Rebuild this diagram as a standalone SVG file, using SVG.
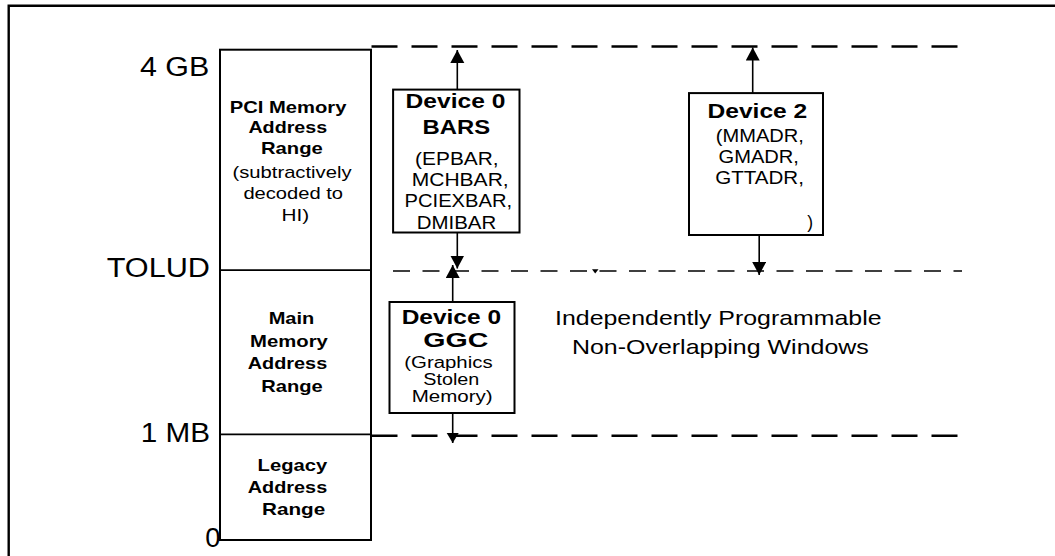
<svg xmlns="http://www.w3.org/2000/svg" width="1055" height="556" viewBox="0 0 1055 556">
<style>
  text { font-family: "Liberation Sans", Arial, sans-serif; fill: #000; }
  .lbl { font-size: 27px; }
  .colb { font-size: 17px; font-weight: bold; }
  .colr { font-size: 17px; }
  .title { font-size: 20px; font-weight: bold; }
  .reg { font-size: 17.5px; }
  .tight { font-size: 16px; }
  .note { font-size: 21px; }
  .box { fill: #fff; stroke: #000; stroke-width: 2; }
  .div { stroke: #000; stroke-width: 1.8; fill: none; }
  .dash-major { stroke: #000; stroke-width: 2.4; stroke-dasharray: 26 14; fill: none; }
  .dash-minor { stroke: #000; stroke-width: 1.6; stroke-dasharray: 17 12.5; fill: none; }
  .arrow { stroke: #000; stroke-width: 1.6; fill: none; marker-end: url(#ah); }
  .arrow-s { stroke: #000; stroke-width: 1.6; fill: none; marker-end: url(#ahs); }
</style>
<defs>
  <marker id="ah" markerUnits="userSpaceOnUse" markerWidth="14" markerHeight="15" refX="13" refY="7" orient="auto">
    <path d="M0,0 L13,7 L0,14 Z" fill="#000"/>
  </marker>
  <marker id="ahs" markerUnits="userSpaceOnUse" markerWidth="11" markerHeight="13" refX="10" refY="6" orient="auto">
    <path d="M0,0 L10,6 L0,12 Z" fill="#000"/>
  </marker>
</defs>
<rect x="0" y="0" width="1055" height="556" fill="#fff"/>
<path d="M8.7,556 V5.8 H1055" fill="none" stroke="#000" stroke-width="2.4"/>

<g id="scale-labels">
  <text class="lbl" x="140" y="75.7" textLength="69.3" lengthAdjust="spacingAndGlyphs">4 GB</text>
  <text class="lbl" x="106.7" y="276.7" textLength="103.3" lengthAdjust="spacingAndGlyphs">TOLUD</text>
  <text class="lbl" x="140.7" y="442.3" textLength="69.3" lengthAdjust="spacingAndGlyphs">1 MB</text>
  <text class="lbl" x="205.2" y="547.3" textLength="15.2" lengthAdjust="spacingAndGlyphs">0</text>
</g>

<g id="memory-column">
  <rect class="box" x="220" y="49.7" width="151" height="490.3"/>
  <line class="div" x1="220" y1="270.1" x2="371" y2="270.1"/>
  <line class="div" x1="220" y1="434.3" x2="371" y2="434.3"/>
</g>

<g id="pci-range">
  <text class="colb" x="229.8" y="112.6" textLength="116.6" lengthAdjust="spacingAndGlyphs">PCI Memory</text>
  <text class="colb" x="248.4" y="132.5" textLength="78.8" lengthAdjust="spacingAndGlyphs">Address</text>
  <text class="colb" x="261" y="153.5" textLength="61.8" lengthAdjust="spacingAndGlyphs">Range</text>
  <text class="colr" x="232.5" y="177.5" textLength="119" lengthAdjust="spacingAndGlyphs">(subtractively</text>
  <text class="colr" x="243.4" y="199" textLength="99.7" lengthAdjust="spacingAndGlyphs">decoded to</text>
  <text class="colr" x="281.6" y="220.5" textLength="27.7" lengthAdjust="spacingAndGlyphs">HI)</text>
</g>

<g id="main-range">
  <text class="colb" x="268.7" y="324.2" textLength="45.6" lengthAdjust="spacingAndGlyphs">Main</text>
  <text class="colb" x="250.1" y="346.5" textLength="77.7" lengthAdjust="spacingAndGlyphs">Memory</text>
  <text class="colb" x="247.8" y="369.2" textLength="79.4" lengthAdjust="spacingAndGlyphs">Address</text>
  <text class="colb" x="261.3" y="391.8" textLength="61.5" lengthAdjust="spacingAndGlyphs">Range</text>
</g>

<g id="legacy-range">
  <text class="colb" x="257.6" y="471.3" textLength="69.6" lengthAdjust="spacingAndGlyphs">Legacy</text>
  <text class="colb" x="247.8" y="493.2" textLength="79.4" lengthAdjust="spacingAndGlyphs">Address</text>
  <text class="colb" x="262" y="515.2" textLength="63.2" lengthAdjust="spacingAndGlyphs">Range</text>
</g>

<g id="connectors">
  <line class="dash-major" x1="371.5" y1="46.5" x2="960" y2="46.5"/>
  <line class="dash-minor" x1="393" y1="271" x2="962" y2="271"/>
  <line class="dash-major" x1="371.5" y1="435.8" x2="959" y2="435.8"/>
  <polygon points="592,269.3 598.5,269.3 595.2,273.5" fill="#000"/>
  <line class="arrow" x1="457.3" y1="89.6" x2="457.3" y2="50"/>
  <line class="arrow" x1="457.3" y1="232.5" x2="457.3" y2="268.5"/>
  <line class="arrow" x1="452.7" y1="302" x2="452.7" y2="265"/>
  <line class="arrow-s" x1="452.7" y1="413" x2="452.7" y2="443"/>
  <line class="arrow" x1="752.7" y1="93" x2="752.7" y2="47.5"/>
  <line class="arrow" x1="759.2" y1="235" x2="759.2" y2="275"/>
</g>

<g id="device0-bars">
  <rect class="box" x="393.1" y="89.6" width="126.4" height="142.9"/>
  <text class="title" x="405.6" y="107.5" textLength="99.7" lengthAdjust="spacingAndGlyphs">Device 0</text>
  <text class="title" x="422.5" y="134.2" textLength="67.6" lengthAdjust="spacingAndGlyphs">BARS</text>
  <text class="reg" x="415.1" y="164.6" textLength="83.5" lengthAdjust="spacingAndGlyphs">(EPBAR,</text>
  <text class="reg" x="411.7" y="185.9" textLength="97" lengthAdjust="spacingAndGlyphs">MCHBAR,</text>
  <text class="reg" x="404.6" y="207.2" textLength="107.5" lengthAdjust="spacingAndGlyphs">PCIEXBAR,</text>
  <text class="reg" x="416.8" y="229.2" textLength="79.4" lengthAdjust="spacingAndGlyphs">DMIBAR</text>
</g>

<g id="device0-ggc">
  <rect class="box" x="389.5" y="302" width="125" height="111"/>
  <text class="title" x="401.7" y="324" textLength="99.3" lengthAdjust="spacingAndGlyphs">Device 0</text>
  <text class="title" x="423.3" y="346.7" textLength="65" lengthAdjust="spacingAndGlyphs">GGC</text>
  <text class="tight" x="404.3" y="367.5" textLength="88.3" lengthAdjust="spacingAndGlyphs">(Graphics</text>
  <text class="tight" x="423.3" y="385.2" textLength="56" lengthAdjust="spacingAndGlyphs">Stolen</text>
  <text class="tight" x="411.7" y="402" textLength="81" lengthAdjust="spacingAndGlyphs">Memory)</text>
</g>

<g id="device2">
  <rect class="box" x="689" y="93.1" width="134" height="141.9"/>
  <text class="title" x="707.5" y="117.9" textLength="99.7" lengthAdjust="spacingAndGlyphs">Device 2</text>
  <text class="reg" x="715.8" y="142.3" textLength="88" lengthAdjust="spacingAndGlyphs">(MMADR,</text>
  <text class="reg" x="718.5" y="163.1" textLength="80.4" lengthAdjust="spacingAndGlyphs">GMADR,</text>
  <text class="reg" x="715.2" y="184.2" textLength="88.7" lengthAdjust="spacingAndGlyphs">GTTADR,</text>
  <text class="reg" x="807.2" y="227.5">)</text>
</g>

<g id="windows-note">
  <text class="note" x="555.1" y="325.2" textLength="326.5" lengthAdjust="spacingAndGlyphs">Independently Programmable</text>
  <text class="note" x="571.9" y="353.6" textLength="296.9" lengthAdjust="spacingAndGlyphs">Non-Overlapping Windows</text>
</g>
</svg>
